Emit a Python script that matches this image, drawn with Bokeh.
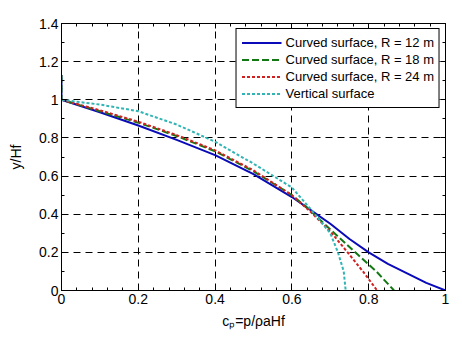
from bokeh.plotting import figure
from bokeh.models import Range1d, LinearAxis, FixedTicker
from bokeh.embed import file_html
from bokeh.resources import INLINE

# ---- data ----
x_ticks = [0, 0.2, 0.4, 0.6, 0.8, 1.0]
x_tick_labels = ["0", "0.2", "0.4", "0.6", "0.8", "1"]
y_ticks = [0, 0.2, 0.4, 0.6, 0.8, 1.0, 1.2, 1.4]
y_tick_labels = ["0", "0.2", "0.4", "0.6", "0.8", "1", "1.2", "1.4"]

r12_x = [0, 0, 0.1, 0.2, 0.3, 0.4, 0.5, 0.6, 0.65, 0.7, 0.75, 0.8, 0.85, 0.9, 0.95, 1.0]
r12_y = [1.13, 1.0, 0.935, 0.865, 0.79, 0.71, 0.61, 0.49, 0.42, 0.35, 0.27, 0.2, 0.14, 0.09, 0.04, 0.0]

r18_x = [0, 0, 0.1, 0.2, 0.3, 0.4, 0.5, 0.6, 0.65, 0.7, 0.765, 0.82, 0.866]
r18_y = [1.13, 1.0, 0.94, 0.88, 0.81, 0.73, 0.625, 0.5, 0.415, 0.32, 0.2, 0.1, 0.0]

r24_x = [0, 0, 0.1, 0.2, 0.3, 0.4, 0.5, 0.6, 0.65, 0.7, 0.745, 0.785, 0.822]
r24_y = [1.13, 1.0, 0.945, 0.885, 0.815, 0.735, 0.63, 0.5, 0.41, 0.31, 0.2, 0.1, 0.0]

vert_x = [0, 0, 0.1, 0.2, 0.3, 0.4, 0.5, 0.6, 0.66, 0.70, 0.72, 0.735, 0.74]
vert_y = [1.13, 1.0, 0.975, 0.94, 0.87, 0.78, 0.665, 0.54, 0.4, 0.3, 0.2, 0.1, 0.0]

x_label = "c\u209a=p/\u03c1aHf"
y_label = "y/Hf"

FONT = "Liberation Sans"

p = figure(width=462, height=344, output_backend="svg", toolbar_location=None,
           x_range=Range1d(0, 1), y_range=Range1d(0, 1.4),
           min_border_left=61, min_border_right=17, min_border_top=23, min_border_bottom=54)
p.background_fill_color = "white"
p.border_fill_color = "white"
p.outline_line_color = "black"
p.outline_line_width = 1

def style_axis(ax, ticks, labels, num_minor, show_labels=True):
    ax.ticker = FixedTicker(ticks=ticks, minor_ticks=[
        ticks[i] + (ticks[i + 1] - ticks[i]) * k / num_minor
        for i in range(len(ticks) - 1) for k in range(1, num_minor)])
    if show_labels:
        ax.major_label_overrides = {t: l for t, l in zip(ticks, labels)}
    else:
        ax.major_label_overrides = {t: "" for t in ticks}
    ax.major_tick_in = 5
    ax.major_tick_out = 0
    ax.minor_tick_in = 3
    ax.minor_tick_out = 0
    ax.axis_line_color = "black"
    ax.major_tick_line_color = "black"
    ax.minor_tick_line_color = "black"
    ax.major_label_text_font = FONT
    ax.major_label_text_font_size = "14px"
    ax.major_label_text_color = "black"
    ax.axis_label_text_font = FONT
    ax.axis_label_text_font_size = "14px"
    ax.axis_label_text_font_style = "normal"
    ax.axis_label_text_color = "black"

style_axis(p.xaxis[0], x_ticks, x_tick_labels, 5)
style_axis(p.yaxis[0], y_ticks, y_tick_labels, 2)
p.xaxis[0].major_label_standoff = 3
p.yaxis[0].major_label_standoff = 3
p.xaxis[0].axis_label = x_label
p.yaxis[0].axis_label = y_label
p.xaxis[0].axis_label_standoff = 6
p.yaxis[0].axis_label_standoff = 12

top = LinearAxis()
right = LinearAxis()
style_axis(top, x_ticks, x_tick_labels, 5, show_labels=False)
style_axis(right, y_ticks, y_tick_labels, 2, show_labels=False)
top.major_label_standoff = 0
right.major_label_standoff = 0
p.add_layout(top, "above")
p.add_layout(right, "right")

p.xgrid.ticker = FixedTicker(ticks=x_ticks)
p.ygrid.ticker = FixedTicker(ticks=y_ticks)
for g in (p.xgrid[0], p.ygrid[0]):
    g.grid_line_color = "black"
    g.grid_line_dash = "7 5"
    g.grid_line_width = 1
    g.grid_line_alpha = 1

p.line(r12_x, r12_y, line_color="#0a0ab8", line_width=2, legend_label="Curved surface, R = 12 m")
p.line(r18_x, r18_y, line_color="#127812", line_width=2, line_dash="7 3", legend_label="Curved surface, R = 18 m")
p.line(r24_x, r24_y, line_color="#d02020", line_width=2, line_dash="3 2", legend_label="Curved surface, R = 24 m")
p.line(vert_x, vert_y, line_color="#30b4b4", line_width=2, line_dash="3 2", legend_label="Vertical surface")

lg = p.legend[0]
lg.location = "top_right"
lg.margin = 5
lg.padding = 5
lg.spacing = 0
lg.label_height = 17
lg.glyph_height = 17
lg.glyph_width = 40
lg.label_standoff = 4
lg.border_line_color = "black"
lg.border_line_width = 1
lg.border_line_alpha = 1
lg.background_fill_alpha = 1
lg.label_text_font = FONT
lg.label_text_font_size = "13px"
lg.label_text_color = "black"

open("out.html", "w").write(file_html(p, INLINE))
